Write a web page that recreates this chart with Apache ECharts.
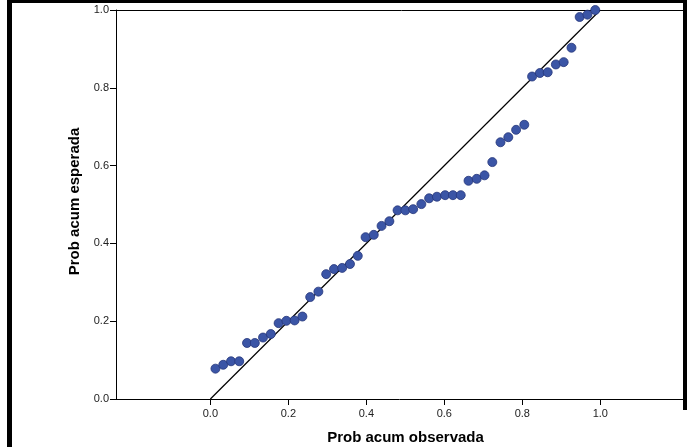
<!DOCTYPE html>
<html>
<head>
<meta charset="utf-8">
<script src="https://cdn.jsdelivr.net/npm/echarts@6/dist/echarts.min.js"></script>
<style>
html,body{margin:0;padding:0;background:#fff;}
#chart{width:687px;height:447px;}
</style>
</head>
<body>
<div id="chart"></div>
<script>
// Observed cumulative probability (x)
var observed = [0.013,0.033,0.053,0.074,0.094,0.114,0.135,0.155,0.175,0.195,
                0.216,0.236,0.256,0.277,0.297,0.317,0.338,0.358,0.378,0.398,
                0.419,0.439,0.459,0.480,0.500,0.520,0.541,0.561,0.581,0.602,
                0.622,0.642,0.662,0.683,0.703,0.723,0.744,0.764,0.784,0.805,
                0.825,0.845,0.865,0.886,0.906,0.926,0.947,0.967,0.987];
// Expected cumulative probability (y)
var expected = [0.078,0.088,0.097,0.097,0.144,0.144,0.158,0.167,0.195,0.201,
                0.202,0.212,0.262,0.276,0.321,0.334,0.337,0.347,0.368,0.416,
                0.422,0.445,0.457,0.485,0.485,0.488,0.501,0.516,0.520,0.524,
                0.524,0.524,0.561,0.566,0.575,0.609,0.660,0.673,0.692,0.705,
                0.829,0.838,0.840,0.860,0.866,0.903,0.982,0.988,1.000];
var refLine = [[0,0],[1,1]];
var xTicks = [0,0.2,0.4,0.6,0.8,1.0];
var xTitle = 'Prob acum observada';
var yTitle = 'Prob acum esperada';

var points = observed.map(function(x,i){return [x, expected[i]];});
var chart = echarts.init(document.getElementById('chart'), null, {renderer:'canvas'});
var font = '"Liberation Sans", Arial, sans-serif';
chart.setOption({
  animation:false,
  backgroundColor:'#ffffff',
  grid:{left:116, top:10, right:4, bottom:48, containLabel:false, outerBoundsMode:'none'},
  xAxis:{
    type:'value', min:-0.242, max:1.212,
    name:xTitle, nameLocation:'middle', nameGap:31,
    nameTextStyle:{fontFamily:font, fontSize:15, fontWeight:'bold', color:'#000', padding:[0,0,0,12]},
    axisLine:{show:true, onZero:false, lineStyle:{color:'#000', width:1}},
    axisTick:{show:true, length:6, customValues:xTicks, lineStyle:{color:'#000'}},
    axisLabel:{customValues:xTicks, margin:9, fontFamily:font, fontSize:11, color:'#222',
      formatter:function(v){return Number(v).toFixed(1);}},
    splitLine:{show:false}
  },
  yAxis:{
    type:'value', min:0, max:1, interval:0.2,
    name:yTitle, nameLocation:'middle', nameGap:30, nameRotate:90,
    nameTextStyle:{fontFamily:font, fontSize:15, fontWeight:'bold', color:'#000', padding:[0,0,0,6]},
    axisLine:{show:true, onZero:false, lineStyle:{color:'#000', width:1}},
    axisTick:{show:true, length:6, lineStyle:{color:'#000'}},
    axisLabel:{margin:7, fontFamily:font, fontSize:11, color:'#222',
      formatter:function(v){return Number(v).toFixed(1);}},
    splitLine:{show:false}
  },
  graphic:[
    {type:'rect', shape:{x:7, y:0, width:5, height:447}, style:{fill:'#000'}, silent:true},
    {type:'rect', shape:{x:7, y:0, width:680, height:3}, style:{fill:'#000'}, silent:true},
    {type:'rect', shape:{x:683, y:0, width:4, height:410}, style:{fill:'#000'}, silent:true},
    {type:'line', shape:{x1:116, y1:10.5, x2:687, y2:10.5}, style:{stroke:'#000', lineWidth:1}, silent:true}
  ],
  series:[
    {type:'line', data:refLine, symbol:'none', lineStyle:{color:'#000', width:1.2}, z:1, silent:true},
    {type:'scatter', data:points, symbol:'circle', symbolSize:9, clip:false,
      itemStyle:{color:'#3b55a6', borderColor:'#26367a', borderWidth:0.8, opacity:1}, z:2}
  ]
});
</script>
</body>
</html>
